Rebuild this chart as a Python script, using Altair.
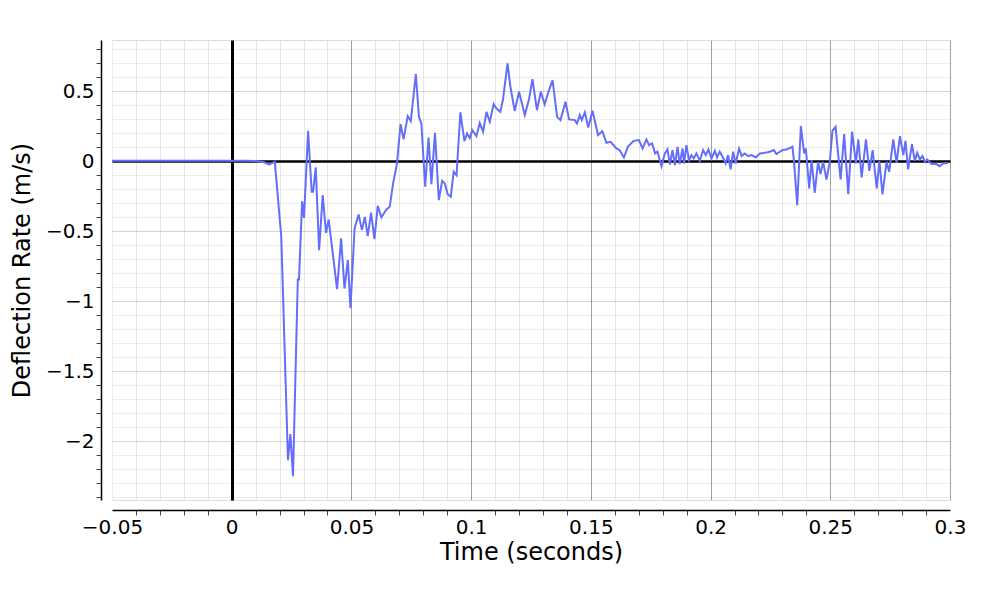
import altair as alt
import pandas as pd

# Time (s) and deflection rate (m/s)
time_s = [
    -0.05, -0.04, -0.03, -0.02, -0.01, 0.0, 0.005, 0.01, 0.0135, 0.0156, 0.018,
    0.0207, 0.0235, 0.0245, 0.0256, 0.0276, 0.0281, 0.0294, 0.0302, 0.0319, 0.0334,
    0.034, 0.0351, 0.0365, 0.038, 0.0394, 0.0405, 0.044, 0.0457, 0.0471, 0.0485,
    0.0496, 0.0513, 0.053, 0.0544, 0.0556, 0.0568, 0.0582, 0.0596, 0.061, 0.0625,
    0.0646, 0.066, 0.0674, 0.069, 0.0705, 0.0718, 0.0735, 0.0748, 0.0769, 0.0782,
    0.0792, 0.0808, 0.0822, 0.0834, 0.0849, 0.0865, 0.0879, 0.089, 0.0902, 0.0915,
    0.0927, 0.0939, 0.0955, 0.0972, 0.0983, 0.0994, 0.1005, 0.1022, 0.1036, 0.105,
    0.1064, 0.1078, 0.1094, 0.1106, 0.1122, 0.1133, 0.1152, 0.1164, 0.1182, 0.12,
    0.1224, 0.1241, 0.1256, 0.1275, 0.1291, 0.1307, 0.1323, 0.134, 0.1359, 0.1373,
    0.1394, 0.1409, 0.1433, 0.1442, 0.1454, 0.1462, 0.1475, 0.1489, 0.1507, 0.153,
    0.1548, 0.1565, 0.1582, 0.1607, 0.162, 0.1638, 0.1655, 0.1679, 0.1701, 0.1716,
    0.1732, 0.1743, 0.1756, 0.1768, 0.1778, 0.1795, 0.1809, 0.182, 0.183, 0.1841,
    0.1851, 0.1862, 0.1871, 0.1883, 0.1889, 0.1899, 0.191, 0.192, 0.193, 0.1941,
    0.1955, 0.1969, 0.198, 0.1991, 0.2004, 0.2018, 0.2027, 0.2038, 0.205, 0.2063,
    0.2073, 0.2084, 0.2094, 0.2105, 0.2119, 0.213, 0.2143, 0.2157, 0.2171, 0.2189,
    0.2206, 0.2226, 0.2247, 0.2264, 0.2275, 0.2289, 0.2301, 0.2317, 0.2342, 0.2348,
    0.2362, 0.2377, 0.2391, 0.2398, 0.2412, 0.2422, 0.2435, 0.2449, 0.2459, 0.247,
    0.2484, 0.2498, 0.2509, 0.2522, 0.2543, 0.2558, 0.2575, 0.2591, 0.2607, 0.2617,
    0.2631, 0.2649, 0.2663, 0.2677, 0.2694, 0.2705, 0.2718, 0.2735, 0.2746, 0.2763,
    0.2777, 0.2791, 0.2805, 0.2814, 0.2825, 0.2841, 0.2853, 0.2863, 0.2874, 0.2885,
    0.2895, 0.2905, 0.2923, 0.2943, 0.2957, 0.2971, 0.2992,
]
rate_ms = [
    0.002, 0.003, 0.002, 0.002, 0.002, 0.002, 0.002, 0.001, -0.008, -0.024, -0.005,
    -0.54, -2.136, -1.95, -2.25, -0.845, -0.845, -0.286, -0.405, 0.217, -0.219,
    -0.219, -0.045, -0.636, -0.243, -0.512, -0.417, -0.914, -0.552, -0.91, -0.707,
    -1.05, -0.481, -0.381, -0.493, -0.398, -0.536, -0.367, -0.557, -0.319, -0.402,
    -0.345, -0.326, -0.159, -0.021, 0.264, 0.155, 0.321, 0.286, 0.621, 0.316,
    0.269, -0.183, 0.169, -0.164, 0.202, -0.279, -0.14, -0.159, -0.236, -0.255,
    -0.076, -0.1, 0.348, 0.143, 0.198, 0.165, 0.221, 0.179, 0.272, 0.21,
    0.352, 0.281, 0.407, 0.376, 0.352, 0.44, 0.698, 0.531, 0.357, 0.495,
    0.329, 0.436, 0.586, 0.364, 0.495, 0.405, 0.495, 0.579, 0.316, 0.293,
    0.424, 0.298, 0.293, 0.269, 0.329, 0.293, 0.348, 0.24, 0.36, 0.186,
    0.214, 0.131, 0.138, 0.09, 0.079, 0.026, 0.104, 0.145, 0.15, 0.09,
    0.155, 0.114, 0.126, 0.055, 0.067, -0.036, 0.055, 0.083, -0.024, 0.079,
    -0.029, 0.102, -0.021, 0.09, -0.017, 0.114, 0.007, 0.043, 0.019, 0.055,
    0.002, 0.079, 0.043, 0.083, 0.019, 0.074, 0.026, 0.067, 0.031, -0.017,
    0.043, -0.059, 0.067, -0.017, 0.09, 0.036, 0.055, 0.036, 0.043, 0.026,
    0.055, 0.059, 0.067, 0.079, 0.05, 0.067, 0.079, 0.083, 0.102, 0.007,
    -0.314, 0.25, 0.055, 0.09, -0.195, 0.007, -0.226, -0.005, -0.093, -0.005,
    -0.131, -0.005, 0.217, 0.245, -0.131, 0.193, -0.236, 0.21, -0.017, 0.155,
    -0.117, 0.155, -0.069, 0.079, -0.195, 0.002, -0.238, -0.005, -0.076, 0.155,
    -0.012, 0.179, 0.043, 0.145, -0.059, 0.121, 0.002, 0.059, 0.012, 0.036,
    -0.005, 0.012, -0.021, -0.021, -0.036, -0.017, -0.012,
]

x_ticks = [round(-0.05 + 0.01 * i, 2) for i in range(36)]
y_ticks = [round(-2.4 + 0.1 * i, 1) for i in range(33)]

df = pd.DataFrame({"t": time_s, "v": rate_ms})

FONT = "DejaVu Sans"

x_major = "abs(round(datum.value*100)) % 5 == 0"
y_major = "abs(round(datum.value*10)) % 5 == 0"
is_zero = "abs(datum.value) < 1e-9"

x_axis = alt.Axis(
    values=x_ticks,
    title="Time (seconds)",
    labelExpr=f"{x_major} ? format(datum.value, '~g') : ''",
    offset=10,
    domainColor="black",
    domainWidth=1.5,
    tickColor="#444",
    tickSize=5,
    tickWidth=1,
    tickOpacity={"condition": {"test": x_major, "value": 0}, "value": 1},
    gridColor={
        "condition": [
            {"test": is_zero, "value": "black"},
            {"test": "datum.value < -0.049", "value": "#eeeeee"},
            {"test": x_major, "value": "#a0a0a0"},
        ],
        "value": "#e6e6e6",
    },
    gridWidth={"condition": {"test": is_zero, "value": 3}, "value": 1},
    labelFont=FONT,
    labelFontSize=20,
    labelColor="black",
    labelPadding=2,
    labelFlush=False,
    titleFont=FONT,
    titleFontSize=24,
    titleFontWeight="normal",
    titleColor="black",
    titlePadding=3,
)

# translucent black grid so crossing horizontal lines do not break the vertical zero line
y_axis = alt.Axis(
    values=y_ticks,
    title="Deflection Rate (m/s)",
    labelExpr=f"{y_major} ? format(datum.value, '~g') : ''",
    offset=11,
    domainColor="black",
    domainWidth=1.5,
    tickColor="#444",
    tickSize=5,
    tickWidth=1,
    tickOpacity={"condition": {"test": y_major, "value": 0}, "value": 1},
    gridColor="black",
    gridOpacity={
        "condition": [
            {"test": is_zero, "value": 1},
            {"test": y_major, "value": 0.17},
        ],
        "value": 0.065,
    },
    gridWidth={"condition": {"test": is_zero, "value": 2.5}, "value": 1},
    labelFont=FONT,
    labelFontSize=20,
    labelColor="black",
    labelPadding=2,
    labelFlush=False,
    titleFont=FONT,
    titleFontSize=24,
    titleFontWeight="normal",
    titleColor="black",
    titlePadding=11,
)

chart = (
    alt.Chart(df)
    .mark_line(color="#636efa", strokeWidth=2, clip=True)
    .encode(
        x=alt.X("t:Q", scale=alt.Scale(domain=[-0.05, 0.3], nice=False, zero=False), axis=x_axis),
        y=alt.Y("v:Q", scale=alt.Scale(domain=[-2.42, 0.865], nice=False, zero=False), axis=y_axis),
    )
    .properties(
        width=838,
        height=460,
        autosize=alt.AutoSizeParams(type="none"),
        padding={"left": 104, "top": 32, "right": 42, "bottom": 92},
    )
    .configure_view(stroke=None)
    .configure(background="white")
)

chart.save("out.html", embed_options={"renderer": "svg", "actions": False})
